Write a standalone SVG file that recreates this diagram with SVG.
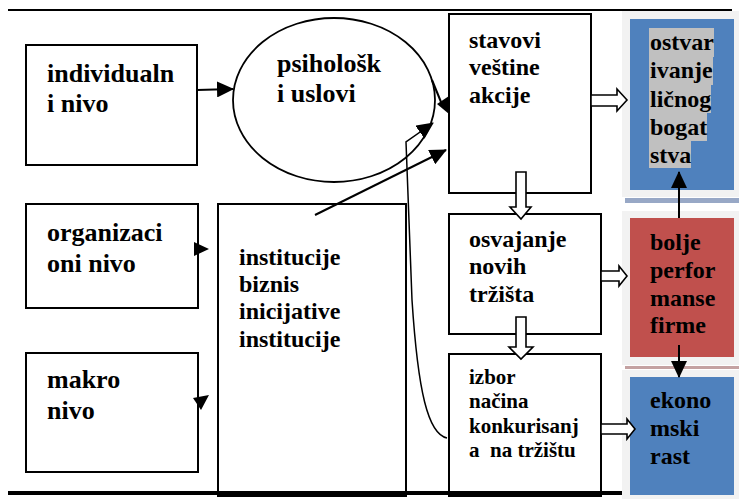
<svg xmlns="http://www.w3.org/2000/svg" width="739" height="499" viewBox="0 0 739 499">
  <style>
    .box { fill: #ffffff; stroke: #000000; stroke-width: 2; }
    text { font-family: 'Liberation Serif', 'Times New Roman', 'DejaVu Serif', serif; font-weight: 700; fill: #000000; }
    .big { font-size: 26px; }
    .mid { font-size: 24px; }
    .small { font-size: 21px; white-space: pre; }
    .line { fill: none; stroke: #000000; stroke-width: 2; }
    .thin { fill: none; stroke: #000000; stroke-width: 1.5; }
    .block { fill: #ffffff; stroke: #000000; stroke-width: 1.6; stroke-linejoin: miter; }
    .head { fill: #000000; stroke: none; }
    .panel { fill: #f2f2f2; }
    .blue { fill: #4f81bd; }
    .red { fill: #c0504d; }
    .hl { fill: #c0c0c0; }
  </style>
  <defs>
    <marker id="tri" markerUnits="userSpaceOnUse" markerWidth="17" markerHeight="16" viewBox="0 0 17 16" refX="16" refY="8" orient="auto">
      <path d="M0,0 L17,8 L0,16 Z" fill="#000000"/>
    </marker>
  </defs>

  <rect width="739" height="499" fill="#ffffff"/>

  <!-- page rules -->
  <line x1="8" y1="10" x2="732" y2="10" stroke="#000000" stroke-width="2"/>

  <!-- right-hand panels -->
  <g id="panels">
    <rect class="panel" x="622" y="11" width="117" height="186"/>
    <rect class="panel" x="622" y="211" width="117" height="154"/>
    <rect class="panel" x="622" y="370" width="117" height="129"/>
    <rect x="625" y="198" width="114" height="5" fill="#98a8c6"/>
    <rect x="625" y="366" width="114" height="3" fill="#c4a2a2"/>
  </g>

  <g id="individualni">
    <rect class="box" x="26" y="45" width="171" height="120"/>
    <text class="big" x="47" y="82">individualn</text>
    <text class="big" x="47" y="112">i nivo</text>
  </g>

  <g id="organizacioni">
    <rect class="box" x="26" y="204" width="172" height="104"/>
    <text class="big" x="47" y="241">organizaci</text>
    <text class="big" x="47" y="272">oni nivo</text>
  </g>

  <g id="makro">
    <rect class="box" x="26" y="353" width="172" height="119"/>
    <text class="big" x="47" y="388">makro</text>
    <text class="big" x="47" y="419">nivo</text>
  </g>

  <g id="psiholoski">
    <ellipse cx="334" cy="100" rx="101" ry="82" fill="#ffffff" stroke="#000000" stroke-width="1.8"/>
    <text class="big" x="277" y="72">psihološk</text>
    <text class="big" x="277" y="102">i uslovi</text>
  </g>

  <g id="institucije">
    <rect class="box" x="218" y="204" width="188" height="292"/>
    <text class="mid" x="239" y="265">institucije</text>
    <text class="mid" x="239" y="292">biznis</text>
    <text class="mid" x="239" y="319">inicijative</text>
    <text class="mid" x="239" y="347">institucije</text>
  </g>

  <g id="stavovi">
    <rect class="box" x="449" y="14" width="142" height="179"/>
    <text class="mid" x="469" y="48">stavovi</text>
    <text class="mid" x="469" y="75">veštine</text>
    <text class="mid" x="469" y="103">akcije</text>
  </g>

  <g id="osvajanje">
    <rect class="box" x="449" y="214" width="152" height="120"/>
    <text class="mid" x="469" y="247">osvajanje</text>
    <text class="mid" x="469" y="274">novih</text>
    <text class="mid" x="469" y="302">tržišta</text>
  </g>

  <g id="izbor">
    <rect class="box" x="449" y="354" width="152" height="142"/>
    <text class="small" x="469" y="384">izbor</text>
    <text class="small" x="469" y="408">načina</text>
    <text class="small" x="469" y="433">konkurisanj</text>
    <text class="small" x="469" y="457">a  na tržištu</text>
  </g>

  <g id="ostvarivanje">
    <rect class="blue" x="630" y="19" width="104" height="171"/>
    <rect class="hl" x="649" y="28" width="65" height="29"/>
    <rect class="hl" x="649" y="56" width="64" height="29"/>
    <rect class="hl" x="649" y="84" width="62" height="29"/>
    <rect class="hl" x="649" y="112" width="58" height="29"/>
    <rect class="hl" x="649" y="140" width="42" height="28"/>
    <text class="mid" x="650" y="50">ostvar</text>
    <text class="mid" x="650" y="78">ivanje</text>
    <text class="mid" x="650" y="107">ličnog</text>
    <text class="mid" x="650" y="135">bogat</text>
    <text class="mid" x="650" y="163">stva</text>
  </g>

  <g id="performanse">
    <rect class="red" x="630" y="218" width="104" height="139"/>
    <text class="mid" x="650" y="250">bolje</text>
    <text class="mid" x="650" y="278">perfor</text>
    <text class="mid" x="650" y="306">manse</text>
    <text class="mid" x="650" y="333">firme</text>
  </g>

  <g id="ekonomski">
    <rect class="blue" x="630" y="377" width="104" height="118"/>
    <text class="mid" x="650" y="408">ekono</text>
    <text class="mid" x="650" y="436">mski</text>
    <text class="mid" x="650" y="464">rast</text>
  </g>

  <g id="connectors">
    <!-- thin arrows -->
    <line class="line" x1="197" y1="90" x2="233" y2="89" marker-end="url(#tri)"/>
    <line class="line" x1="315" y1="215" x2="446" y2="150" marker-end="url(#tri)"/>
    <path class="thin" d="M447,438 C428,434 418,392 412,300 L406,142 L433,123" marker-end="url(#tri)"/>
    <line class="line" x1="432" y1="80" x2="441" y2="102"/>
    <polygon class="head" points="437,104 449,96 449,114"/>
    <polygon class="head" points="194,242 194,256 209,249"/>
    <polygon class="head" points="193,398 209,395 201,410"/>
    <line class="line" x1="679" y1="218" x2="679" y2="172" marker-end="url(#tri)"/>
    <line class="line" x1="679" y1="345" x2="679" y2="377" marker-end="url(#tri)"/>

    <!-- hollow block arrows -->
    <polygon class="block" points="591,95 617,95 617,89 627,100 617,111 617,106 591,106"/>
    <polygon class="block" points="601,271 619,271 619,266 627,276 619,286 619,281 601,281"/>
    <polygon class="block" points="601,424 627,424 627,419 635,429 627,439 627,434 601,434"/>
    <polygon class="block" points="516,172 526,172 526,207 531,207 521,219 510,207 516,207"/>
    <polygon class="block" points="516,317 526,317 526,347 533,347 521,359 509,347 516,347"/>
  </g>

  <line x1="8" y1="493" x2="622" y2="493" stroke="#000000" stroke-width="4"/>
</svg>
